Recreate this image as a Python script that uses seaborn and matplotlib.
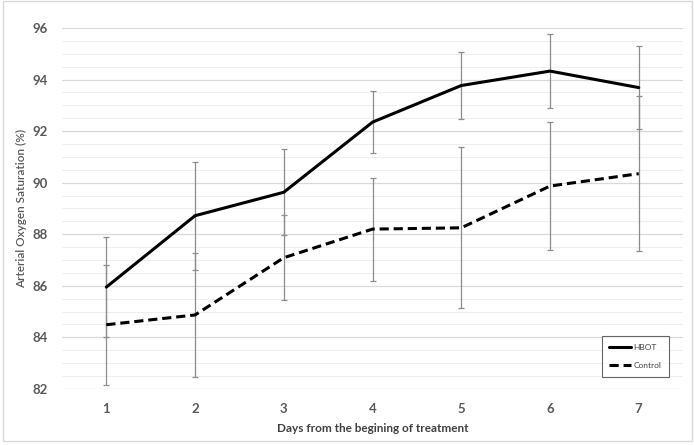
import numpy as np
import pandas as pd
import matplotlib.pyplot as plt
import seaborn as sns
from matplotlib.ticker import MultipleLocator
from matplotlib.lines import Line2D

days = [1, 2, 3, 4, 5, 6, 7]
hbot = [85.95, 88.72, 89.63, 92.35, 93.77, 94.33, 93.69]
hbot_err = [1.93, 2.10, 1.67, 1.20, 1.29, 1.45, 1.60]
control = [84.49, 84.87, 87.09, 88.20, 88.25, 89.87, 90.35]
control_err = [2.33, 2.42, 1.65, 2.00, 3.12, 2.47, 3.00]

df = pd.DataFrame({
    'day': days * 2,
    'sat': hbot + control,
    'group': ['HBOT'] * 7 + ['Control'] * 7,
})

sns.set_style('white')
plt.rcParams['font.family'] = ['Lato', 'DejaVu Sans']

fig = plt.figure(figsize=(6.94, 4.45), dpi=100)
ax = fig.add_axes([0.0893, 0.126, 0.895, 0.811])

# error bars first so lines sit on top
ax.errorbar(days, hbot, yerr=hbot_err, fmt='none', ecolor='#8c8c8c',
            elinewidth=0.9, capsize=2.5, capthick=0.9, zorder=2)
ax.errorbar(days, control, yerr=control_err, fmt='none', ecolor='#8c8c8c',
            elinewidth=0.9, capsize=2.5, capthick=0.9, zorder=2)

sns.lineplot(data=df, x='day', y='sat', hue='group', style='group',
             palette={'HBOT': 'black', 'Control': 'black'},
             dashes={'HBOT': '', 'Control': (3, 1.6)},
             linewidth=2.2, ax=ax, zorder=3, legend=False)

ax.set_xlim(0.5, 7.5)
ax.set_ylim(82, 96)
ax.set_xticks(days)
ax.yaxis.set_major_locator(MultipleLocator(2))
ax.yaxis.set_minor_locator(MultipleLocator(0.5))
ax.grid(which='major', axis='y', color='#d9d9d9', linewidth=0.9, zorder=0)
ax.grid(which='minor', axis='y', color='#efefef', linewidth=0.8, zorder=0)
ax.set_axisbelow(True)
for s in ax.spines.values():
    s.set_visible(False)
ax.tick_params(axis='both', which='both', length=0, colors='#595959',
               labelsize=9.5, pad=10)
for lab in ax.get_xticklabels() + ax.get_yticklabels():
    lab.set_fontweight('bold')

ax.set_xlabel('Days from the begining of treatment', fontsize=8.5,
              fontweight='bold', color='#404040', labelpad=6)
ax.set_ylabel('Arterial Oxygen Saturation (%)', fontsize=8.5,
              fontweight='semibold', color='#595959', labelpad=4)

handles = [Line2D([], [], color='black', lw=2.2),
           Line2D([], [], color='black', lw=2.2, dashes=(3, 1.6))]
leg = ax.legend(handles, ['HBOT', 'Control'], loc='lower right',
                bbox_to_anchor=(0.984, 0.022), fontsize=6,
                frameon=True, fancybox=False, edgecolor='#404040',
                handlelength=2.6, labelspacing=1.4, borderpad=0.9,
                handletextpad=0.3)
leg.get_frame().set_linewidth(0.8)
for t in leg.get_texts():
    t.set_color('#404040')

fig.patches.append(plt.Rectangle((0.004, 0.008), 0.993, 0.99,
                                 transform=fig.transFigure, fill=False,
                                 edgecolor='#d9d9d9', linewidth=1))

fig.savefig('out.png', dpi=100)
